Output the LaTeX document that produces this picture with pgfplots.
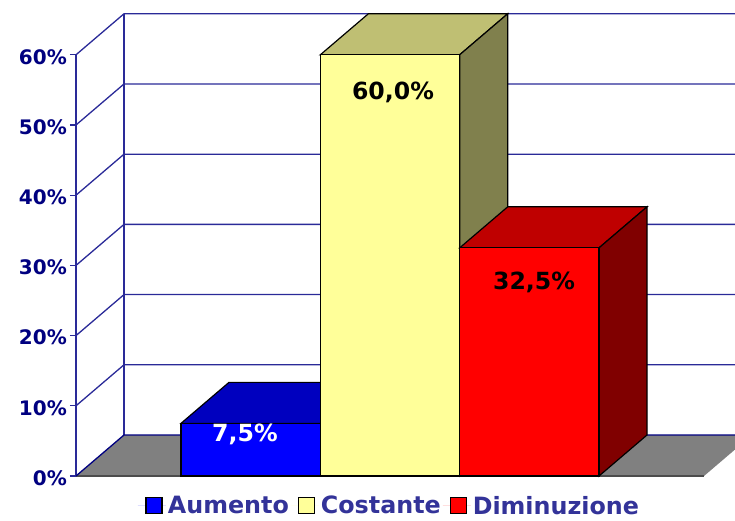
\documentclass[border=0pt]{standalone}
\usepackage{pgfplots}
\pgfplotsset{compat=1.18}
\usepackage{fontspec}
\setmainfont{DejaVu Sans}
\definecolor{nav}{HTML}{000080}
\definecolor{wall}{HTML}{2A2A98}
\definecolor{legt}{HTML}{333399}
\definecolor{ytop}{HTML}{BFBF73}
\definecolor{yside}{HTML}{80804D}
\definecolor{yfront}{HTML}{FFFF99}
\definecolor{btop}{HTML}{0000BF}
\definecolor{bside}{HTML}{000080}
\definecolor{rtop}{HTML}{BF0000}
\definecolor{rside}{HTML}{800000}
\begin{document}
\begin{tikzpicture}
\path[use as bounding box] (-76pt,-44pt) rectangle (659pt,476pt);
\begin{axis}[
  scale only axis, width=659pt, height=462pt,
  xmin=-1.2536, xmax=3.476, ymin=0, ymax=65.81,
  clip=false,
  axis x line=none,
  axis y line*=left,
  y axis line style={draw=none},
  ytick={0,10,20,30,40,50,60},
  yticklabel={\pgfmathprintnumber{\tick}\%},
  /pgf/number format/assume math mode=true,
  tick style={wall, line width=1.3pt},
  tick align=outside,
  major tick length=6pt,
  yticklabel style={font=\fontsize{20}{21}\selectfont\bfseries, text=nav, inner sep=0pt, xshift=-3pt, yshift=-2pt},
  legend style={at={(axis cs:0.996,-4.25)}, anchor=center, draw=none, fill=none, inner sep=0pt,
    nodes={inner ysep=0pt},
    font=\fontsize{23.8}{24}\selectfont\bfseries, text=legt, legend columns=3},
  legend image code/.code={\path[draw=none] (-8pt,0pt) -- (20pt,0pt); \draw[#1] (0pt,-8pt) rectangle (16pt,8pt);},
  legend cell align=left,
]
% floor
\addplot[draw=none, forget plot, fill=black!50] coordinates {(-1.2536,0) (-0.9091,5.84) (3.476,5.84) (3.476,3.77) (3.2536,0)} --cycle;
\addplot[black!70, line width=1.3pt, forget plot] coordinates {(-1.2536,0) (3.2536,0)};
\addplot[wall, line width=1.7pt, forget plot] coordinates {(-1.2536,0) (-1.2536,60)};
\addplot[wall, line width=1.7pt, forget plot] coordinates {(-0.9091,5.84) (-0.9091,65.84)};
% grid
\addplot[nav, line width=1.3pt, forget plot] coordinates {(-1.2536,0) (-0.9091,5.84) (3.476,5.84)};
\addplot[wall, line width=1.3pt, forget plot] coordinates {(-1.2536,10) (-0.9091,15.84) (3.476,15.84)};
\addplot[wall, line width=1.3pt, forget plot] coordinates {(-1.2536,20) (-0.9091,25.84) (3.476,25.84)};
\addplot[wall, line width=1.3pt, forget plot] coordinates {(-1.2536,30) (-0.9091,35.84) (3.476,35.84)};
\addplot[wall, line width=1.3pt, forget plot] coordinates {(-1.2536,40) (-0.9091,45.84) (3.476,45.84)};
\addplot[wall, line width=1.3pt, forget plot] coordinates {(-1.2536,50) (-0.9091,55.84) (3.476,55.84)};
\addplot[wall, line width=1.3pt, forget plot] coordinates {(-1.2536,60) (-0.9091,65.84) (3.476,65.84)};
% blue bar 7.5
\addplot[black, line width=1.2pt, fill=btop, forget plot] coordinates {(-0.5,7.5) (-0.1555,13.34) (0.8445,13.34) (0.5,7.5)} --cycle;
\addplot[black, line width=1.2pt, fill=blue, forget plot] coordinates {(-0.5,0) (-0.5,7.5) (0.5,7.5) (0.5,0)} --cycle;
% yellow bar 60
\addplot[black, line width=1.2pt, fill=ytop, forget plot] coordinates {(0.5,60) (0.8445,65.84) (1.8445,65.84) (1.5,60)} --cycle;
\addplot[black, line width=1.2pt, fill=yside, forget plot] coordinates {(1.5,0) (1.5,60) (1.8445,65.84) (1.8445,5.84)} --cycle;
\addplot[black, line width=1.2pt, fill=yfront, forget plot] coordinates {(0.5,0) (0.5,60) (1.5,60) (1.5,0)} --cycle;
% red bar 32.5
\addplot[black, line width=1.2pt, fill=rtop, forget plot] coordinates {(1.5,32.5) (1.8445,38.34) (2.8445,38.34) (2.5,32.5)} --cycle;
\addplot[black, line width=1.2pt, fill=rside, forget plot] coordinates {(2.5,0) (2.5,32.5) (2.8445,38.34) (2.8445,5.84)} --cycle;
\addplot[black, line width=1.2pt, fill=red, forget plot] coordinates {(1.5,0) (1.5,32.5) (2.5,32.5) (2.5,0)} --cycle;
\addlegendimage{black, line width=1.2pt, fill=blue}
\addlegendentry{Aumento}
\addlegendimage{black, line width=1.2pt, fill=yfront}
\addlegendentry{Costante}
\addlegendimage{black, line width=1.2pt, fill=red}
\addlegendentry{Diminuzione}
\node[font=\fontsize{23.6}{24}\selectfont\bfseries, text=white] at (axis cs:-0.041,5.98) {7,5\%};
\node[font=\fontsize{23.6}{24}\selectfont\bfseries, text=black] at (axis cs:1.0215,54.7) {60,0\%};
\node[font=\fontsize{23.6}{24}\selectfont\bfseries, text=black] at (axis cs:2.0335,27.6) {32,5\%};
\end{axis}
\end{tikzpicture}
\end{document}
